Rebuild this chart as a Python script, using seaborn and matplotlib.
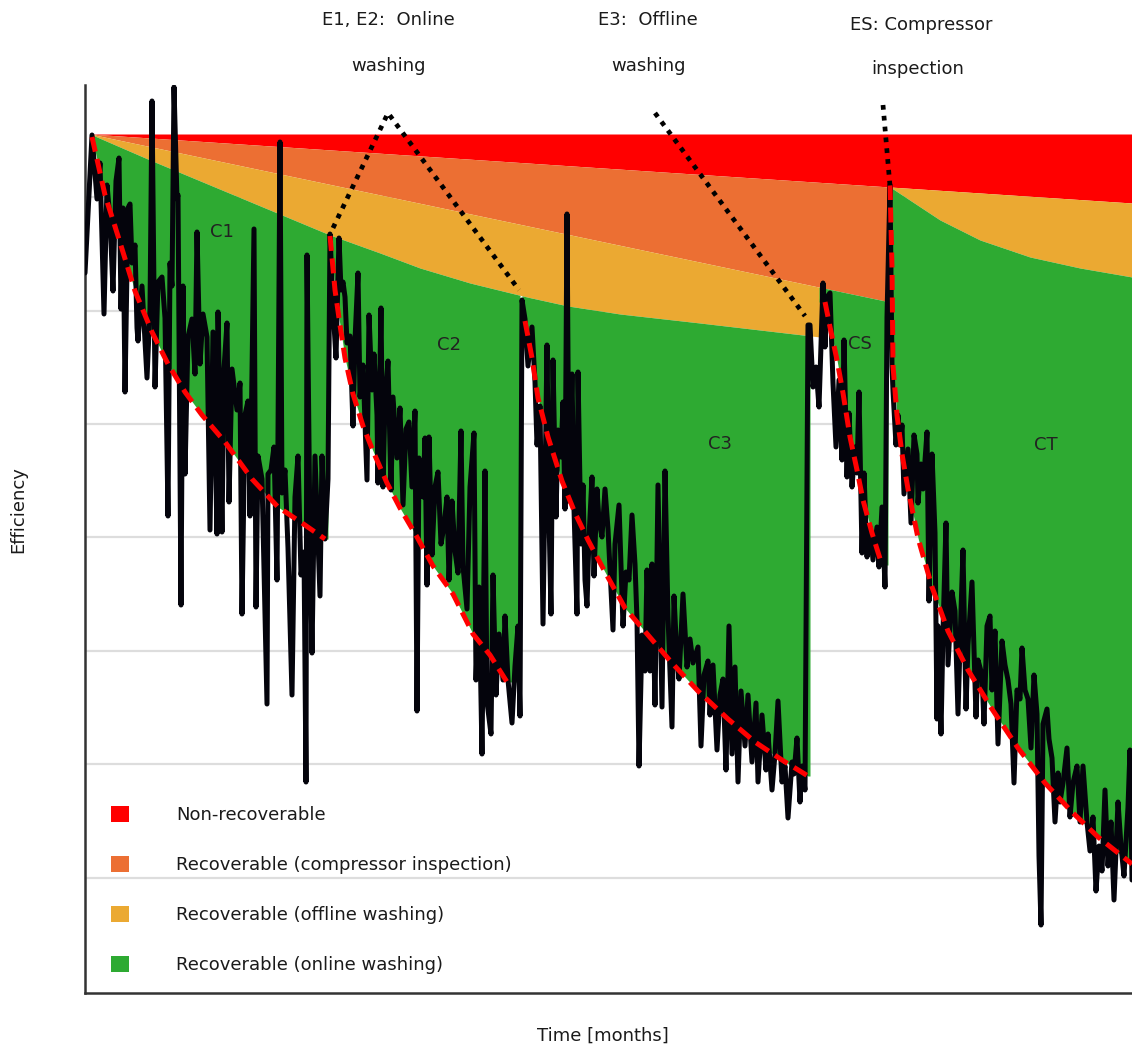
import numpy as np
import matplotlib
matplotlib.use("Agg")
import matplotlib.pyplot as plt
import seaborn as sns
from matplotlib.patches import Patch

# ---------------------------------------------------------------
# Data (time in days since commissioning, efficiency deficit "loss"
# relative to a reference level E_REF; efficiency = E_REF - loss)
# ---------------------------------------------------------------
E_REF = 1000.0
DESIGN_LOSS = 134

# measured efficiency (noisy signal), cycle by cycle
c1_t = [85, 92, 97, 100, 104, 107, 110, 113, 116, 119, 121, 123, 125, 128, 130, 132, 135, 137, 138, 142,
        147, 150, 152, 155, 158, 162, 165, 168, 170, 172, 174, 177, 178, 181, 183, 185, 188, 192, 195, 197,
        200, 203, 207, 210, 213, 217, 218, 222, 224, 227, 229, 232, 237, 240, 242, 245, 248, 250, 254, 256,
        258, 262, 267, 268, 271, 274, 277, 280, 282, 285, 288, 292, 295, 298, 301, 304, 306, 307, 310, 312,
        315, 318, 320, 322, 325, 328]
c1_loss = [273, 135, 199, 163, 314, 185, 218, 291, 181, 158, 309, 208, 392, 208, 204, 263, 245, 328, 341, 286,
           378, 309, 101, 387, 282, 277, 318, 516, 263, 286, 87, 199, 195, 605, 286, 474, 337, 319, 374, 232,
           364, 314, 337, 530, 332, 534, 312, 532, 369, 323, 502, 369, 410, 383, 614, 415, 401, 516, 229, 607,
           456, 479, 704, 474, 470, 447, 580, 142, 493, 470, 548, 695, 497, 456, 575, 552, 782, 255, 539, 653,
           456, 539, 596, 456, 539, 479]

c2_t = [330, 333, 336, 339, 341, 343, 345, 347, 350, 353, 355, 358, 360, 363, 367, 369, 372, 374, 377, 378,
        381, 383, 385, 388, 391, 393, 397, 400, 403, 406, 409, 412, 415, 417, 419, 423, 425, 427, 429, 432,
        435, 438, 441, 444, 447, 449, 452, 455, 458, 461, 463, 467, 470, 474, 476, 479, 482, 485, 487, 491,
        493, 496, 499, 503, 505, 508, 512, 515, 518, 520]
c2_loss = [234, 308, 358, 238, 290, 282, 297, 343, 336, 426, 340, 273, 397, 365, 480, 315, 390, 354, 415, 483,
           308, 487, 401, 361, 490, 397, 458, 408, 505, 429, 422, 487, 411, 711, 458, 497, 438, 585, 437, 555,
           487, 472, 544, 526, 497, 580, 501, 551, 573, 431, 566, 609, 487, 433, 680, 587, 754, 471, 702, 734,
           575, 695, 634, 680, 616, 680, 723, 666, 626, 716]

c3_t = [522, 525, 528, 532, 535, 537, 540, 543, 547, 549, 551, 553, 556, 558, 561, 563, 565, 567, 569, 572,
        574, 577, 578, 581, 583, 585, 587, 589, 592, 594, 597, 599, 602, 605, 608, 613, 615, 619, 623, 626,
        629, 632, 635, 637, 639, 642, 645, 647, 650, 652, 655, 658, 662, 665, 668, 672, 674, 677, 679, 683,
        687, 690, 693, 698, 701, 704, 708, 710, 713, 717, 720, 723, 726, 729, 732, 735, 738, 741, 745, 748,
        752, 756, 758, 762, 766, 768, 772, 775, 778, 782, 785, 788, 792, 794, 797, 800, 802, 805]
c3_loss = [300, 319, 366, 327, 382, 445, 406, 624, 345, 517, 614, 360, 517, 430, 457, 402, 509, 214, 501, 374,
           509, 614, 372, 544, 485, 580, 606, 537, 477, 576, 489, 521, 537, 489, 529, 630, 544, 505, 626, 572,
           580, 515, 564, 620, 766, 635, 671, 570, 671, 564, 705, 485, 707, 471, 616, 727, 596, 659, 679, 594,
           667, 639, 663, 647, 746, 675, 661, 715, 665, 750, 695, 679, 770, 626, 754, 667, 782, 691, 746, 695,
           762, 703, 782, 715, 770, 734, 790, 754, 701, 782, 766, 818, 762, 774, 738, 802, 766, 790]

cs_t = [808, 810, 813, 816, 819, 823, 825, 827, 830, 833, 836, 839, 842, 844, 847, 849, 852, 855, 857, 859,
        862, 864, 867, 870, 873, 877, 879, 882, 885, 887]
cs_loss = [325, 325, 387, 367, 407, 283, 347, 297, 293, 383, 447, 380, 460, 340, 477, 413, 487, 447, 473, 392,
           553, 473, 557, 527, 560, 527, 567, 507, 587, 317]

ct_t = [890, 892, 893, 896, 898, 900, 902, 904, 908, 911, 914, 917, 918, 921, 923, 927, 929, 932, 935, 937,
        938, 941, 943, 946, 948, 952, 955, 958, 961, 963, 966, 968, 972, 976, 978, 982, 984, 987, 990, 992,
        995, 998, 1002, 1005, 1008, 1011, 1014, 1017, 1020, 1022, 1025, 1028, 1031, 1034, 1037, 1039, 1041,
        1043, 1047, 1049, 1052, 1055, 1058, 1060, 1063, 1067, 1070, 1073, 1077, 1080, 1083, 1087, 1090, 1093,
        1096, 1099, 1102, 1105, 1108, 1111, 1114, 1118, 1121, 1124, 1128, 1130, 1132]
ct_loss = [185, 366, 391, 445, 415, 445, 425, 494, 449, 523, 435, 454, 503, 464, 489, 432, 601, 454, 533, 719,
           626, 734, 631, 523, 665, 592, 611, 714, 611, 550, 709, 645, 582, 717, 660, 675, 724, 626, 616, 690,
           631, 744, 641, 665, 680, 704, 783, 690, 699, 648, 690, 699, 748, 675, 714, 856, 925,
           724, 709, 739, 758, 822, 773, 802, 783, 748, 817, 783, 766, 822, 766, 822, 851, 817,
           891, 846, 871, 790, 866, 822, 900, 802, 846, 876, 807, 750, 880]

# fitted degradation trends per cycle
tr_c1_t = [92, 105, 118, 135, 152, 168, 185, 202, 225, 252, 278, 302, 325]
tr_c1_loss = [137, 195, 236, 291, 332, 364, 392, 415, 442, 479, 507, 523, 539]
tr_c2_t = [330, 335, 340, 345, 353, 363, 373, 387, 400, 417, 433, 453, 473, 490, 507]
tr_c2_loss = [236, 290, 325, 358, 394, 426, 451, 483, 508, 537, 566, 594, 634, 655, 682]
tr_c3_t = [525, 532, 538, 548, 562, 575, 588, 605, 625, 648, 672, 698, 728, 755, 782, 808]
tr_c3_loss = [321, 358, 398, 437, 481, 513, 540, 572, 608, 635, 663, 691, 719, 742, 760, 776]
tr_cs_t = [825, 830, 837, 843, 850, 857, 863, 872, 882]
tr_cs_loss = [302, 327, 360, 393, 437, 470, 500, 533, 565]
tr_ct_t = [890, 892, 893, 897, 902, 908, 918, 932, 948, 968, 992, 1018, 1045, 1072, 1098, 1132]
tr_ct_loss = [185, 268, 366, 415, 454, 489, 538, 587, 631, 670, 709, 748, 783, 812, 837, 864]

# loss components (upper limits of each recoverable share)
nonrec_t = [90, 890, 1132]
nonrec_loss = [134, 187, 203]
comp_t = [90, 890]
comp_loss = [134, 302]
online1_t = [90, 150, 210, 270, 330, 380, 420, 470, 527, 568, 620, 700, 760, 820]
online1_loss = [134, 160, 185, 210, 235, 253, 268, 283, 297, 306, 314, 323, 330, 337]
online3_t = [890, 940, 980, 1030, 1080, 1132]
online3_loss = [187, 220, 240, 257, 268, 277]

# events
ev_e12_t, ev_e12_loss = [333, 388, 519], [228, 113, 290]
ev_e3_t, ev_e3_loss = [655, 805], [113, 316]
ev_es_t, ev_es_loss = [883, 890], [105, 186]

cycle_labels = ["C1", "C2", "C3", "CS", "CT"]
cycle_label_t = [222, 449, 720, 860, 1046]
cycle_label_loss = [232, 345, 444, 344, 445]

legend_labels = ["Non-recoverable", "Recoverable (compressor inspection)",
                 "Recoverable (offline washing)", "Recoverable (online washing)"]

RED, ORANGE, YELLOW, GREEN = "#ff0000", "#ec6f33", "#eba932", "#2eaa32"

# ---------------------------------------------------------------
sns.set_style("white")
plt.rcParams["font.family"] = ["DejaVu Sans"]

FS = 13

fig = plt.figure(figsize=(11.32, 10.49), dpi=100)
ax = fig.add_axes([85 / 1132, 56 / 1049, 1047 / 1132, 908 / 1049])


def eff(tp, lp, x):
    return E_REF - np.interp(x, tp, lp)


# bands
x = np.linspace(90, 1132, 600)
ax.fill_between(x, E_REF - DESIGN_LOSS, eff(nonrec_t, nonrec_loss, x), color=RED, lw=0, zorder=1)
x = np.linspace(90, 890, 500)
ax.fill_between(x, eff(nonrec_t, nonrec_loss, x), eff(comp_t, comp_loss, x), color=ORANGE, lw=0, zorder=1)
x = np.linspace(90, 820, 500)
ax.fill_between(x, eff(comp_t, comp_loss, x), eff(online1_t, online1_loss, x), color=YELLOW, lw=0, zorder=1)
x = np.linspace(890, 1132, 300)
ax.fill_between(x, eff(nonrec_t, nonrec_loss, x), eff(online3_t, online3_loss, x), color=YELLOW, lw=0, zorder=1)

green_segments = [
    (90, 328, online1_t, online1_loss, tr_c1_t, tr_c1_loss),
    (330, 520, online1_t, online1_loss, tr_c2_t, tr_c2_loss),
    (522, 810, online1_t, online1_loss, tr_c3_t, tr_c3_loss),
    (819, 888, comp_t, comp_loss, tr_cs_t, tr_cs_loss),
    (890, 1132, online3_t, online3_loss, tr_ct_t, tr_ct_loss),
]
for x0, x1, tt, tl, bt, bl in green_segments:
    x = np.linspace(x0, x1, 300)
    ax.fill_between(x, eff(tt, tl, x), eff(bt, bl, x), color=GREEN, lw=0, zorder=1)

# measured signal
t_all = np.array(c1_t + c2_t + c3_t + cs_t + ct_t, dtype=float)
e_all = E_REF - np.array(c1_loss + c2_loss + c3_loss + cs_loss + ct_loss, dtype=float)
sns.lineplot(x=t_all, y=e_all, estimator=None, sort=False, color="#04040c", lw=3.6, ax=ax,
             zorder=3, solid_joinstyle="round", solid_capstyle="round")

# trends
for tt, tl in [(tr_c1_t, tr_c1_loss), (tr_c2_t, tr_c2_loss), (tr_c3_t, tr_c3_loss),
               (tr_cs_t, tr_cs_loss), (tr_ct_t, tr_ct_loss)]:
    ax.plot(tt, E_REF - np.array(tl), color=RED, lw=3.6, dashes=(3.0, 1.5), zorder=5)

# event connectors
for tt, tl in [(ev_e12_t, ev_e12_loss), (ev_e3_t, ev_e3_loss), (ev_es_t, ev_es_loss)]:
    ax.plot(tt, E_REF - np.array(tl), color="black", lw=3.4, linestyle=(0, (1, 1.3)),
            dash_capstyle="butt", zorder=5, clip_on=False)

# event texts
txt_kw = dict(ha="center", va="center", fontsize=FS, color="#1a1a1a")
ax.text(388, E_REF - 20, "E1, E2:  Online", **txt_kw)
ax.text(388, E_REF - 66, "washing", **txt_kw)
ax.text(648, E_REF - 20, "E3:  Offline", **txt_kw)
ax.text(649, E_REF - 66, "washing", **txt_kw)
ax.text(921, E_REF - 25, "ES: Compressor", **txt_kw)
ax.text(918, E_REF - 69, "inspection", **txt_kw)

for lab, tx, tl in zip(cycle_labels, cycle_label_t, cycle_label_loss):
    ax.text(tx, E_REF - tl, lab, ha="center", va="center", fontsize=FS, color="#222222", zorder=6)

# axes styling
ax.set_xlim(85, 1132)
ax.set_ylim(E_REF - 993, E_REF - 85)
ax.set_yticks([E_REF - v for v in [878, 764, 651, 537, 424, 311, 197]])
ax.set_xticks([])
ax.set_yticklabels([])
ax.tick_params(axis="y", length=0)
ax.grid(axis="y", color="#dddddd", lw=1.6)
ax.set_axisbelow(True)
for s in ["top", "right"]:
    ax.spines[s].set_visible(False)
for s in ["left", "bottom"]:
    ax.spines[s].set_color("#333333")
    ax.spines[s].set_linewidth(1.8)

ax.set_xlabel("Time [months]", fontsize=FS, color="#1a1a1a")
ax.set_ylabel("Efficiency", fontsize=FS, color="#1a1a1a")
ax.xaxis.set_label_coords((603 - 85) / 1047, -(1027 - 993) / 908)
ax.yaxis.set_label_coords(-(85 - 27) / 1047, (993 - 510) / 908)

handles = [Patch(facecolor=c, edgecolor="none") for c in [RED, ORANGE, YELLOW, GREEN]]
ax.legend(handles, legend_labels, loc="upper left", bbox_to_anchor=((111 - 85) / 1047, (993 - 806) / 908),
          frameon=False, handlelength=18 / 18.06, handleheight=18 / 18.06, handletextpad=2.6, labelspacing=1.75,
          borderpad=0, borderaxespad=0, fontsize=FS, labelcolor="#1a1a1a")

fig.savefig("out.png", dpi=100)
